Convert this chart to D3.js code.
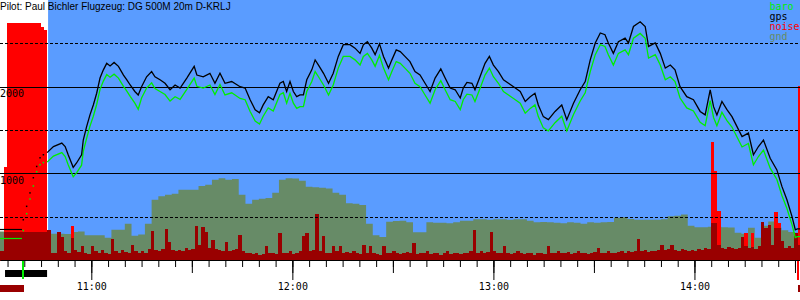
<!DOCTYPE html>
<html>
<head>
<meta charset="utf-8">
<script src="https://cdn.jsdelivr.net/npm/d3@7"></script>
<style>
  body { margin: 0; background: #fff; }
  svg { display: block; }
</style>
</head>
<body>
<div id="chart"></div>
<script>
// Flight data, times are minutes after 10:00, altitudes in metres
var title = "Pilot: Paul Bichler Flugzeug: DG 500M 20m D-KRLJ";

var flightMin = [
  46.8, 48.7, 51.2, 52.2, 53.1, 54.6, 55.6, 57.1, 57.6, 58.6,
  59.6, 60.6, 61.6, 62.6, 63.6, 64.6, 65.6, 66.8, 68.1, 69.6,
  70.6, 71.6, 73.0, 74.0, 75.0, 76.5, 78.0, 79.0, 80.5, 82.0,
  83.5, 85.0, 86.5, 88.5, 90.7, 91.5, 93.4, 95.4, 96.9, 98.4,
  99.9, 101.9, 104.4, 105.9, 107.4, 108.9, 110.2, 111.3, 112.8, 114.3,
  116.3, 117.3, 118.3, 119.3, 120.3, 121.3, 122.3, 123.3, 124.3, 125.8,
  126.8, 127.8, 129.3, 130.8, 132.2, 133.7, 135.2, 137.2, 138.7, 140.2,
  141.2, 142.4, 143.7, 144.7, 146.0, 147.2, 148.7, 149.7, 151.0, 152.2,
  153.6, 155.1, 156.6, 158.1, 159.6, 161.1, 162.6, 164.3, 165.6, 167.1,
  168.6, 170.1, 171.0, 172.1, 173.6, 174.5, 176.0, 177.5, 178.8, 180.0,
  181.5, 183.0, 184.5, 186.0, 188.0, 189.5, 191.0, 192.4, 193.4, 194.9,
  196.4, 198.4, 200.4, 201.9, 203.9, 205.9, 207.4, 208.9, 210.4, 211.9,
  213.3, 214.3, 215.8, 217.3, 219.3, 220.3, 221.8, 223.8, 225.3, 226.3,
  228.3, 229.8, 231.3, 232.8, 234.2, 235.7, 237.7, 239.7, 241.7, 243.2,
  244.7, 245.7, 246.7, 248.2, 249.7, 251.2, 252.7, 254.2, 256.1, 257.6,
  259.1, 260.6, 262.6, 264.6, 266.1, 267.6, 269.1, 270.1, 270.7, 271.6
];

var gpsAlt = [
  1245, 1315, 1355, 1315, 1220, 1075, 1125, 1220, 1390, 1545,
  1680, 1795, 1930, 2105, 2200, 2275, 2245, 2285, 2240, 2140,
  2085, 2025, 1950, 1910, 2005, 2120, 2180, 2120, 2085, 2045,
  1970, 2025, 1990, 2105, 2240, 2140, 2120, 2160, 2045, 2160,
  2045, 2065, 2005, 1990, 1855, 1740, 1705, 1795, 1890, 1855,
  2045, 2065, 1950, 2065, 1950, 1890, 1910, 1910, 2085, 2200,
  2315, 2255, 2160, 2045, 2160, 2355, 2490, 2490, 2450, 2390,
  2490, 2525, 2450, 2375, 2500, 2355, 2220, 2315, 2430, 2410,
  2355, 2295, 2180, 2140, 2045, 1950, 2105, 2210, 2105, 1990,
  1970, 1875, 1990, 2055, 2045, 1970, 2120, 2275, 2355, 2255,
  2180, 2085, 2045, 2005, 1950, 1835, 1890, 1930, 1795, 1660,
  1625, 1720, 1795, 1625, 1815, 1970, 2065, 2315, 2510, 2625,
  2605, 2510, 2390, 2525, 2565, 2510, 2700, 2755, 2700, 2470,
  2510, 2390, 2220, 2255, 2200, 2005, 1890, 1855, 1720, 1680,
  1970, 1775, 1680, 1835, 1740, 1660, 1545, 1430, 1470, 1220,
  1315, 1390, 1180, 1045, 855, 700, 510, 355, 365, 365
];

var baroAlt = [
  1135, 1205, 1245, 1200, 1105, 965, 1010, 1100, 1260, 1410,
  1550, 1665, 1800, 1975, 2070, 2145, 2115, 2150, 2105, 2010,
  1955, 1895, 1815, 1745, 1875, 1990, 2050, 1985, 1950, 1915,
  1840, 1890, 1860, 1975, 2105, 2010, 1990, 2025, 1915, 2030,
  1910, 1935, 1870, 1855, 1720, 1610, 1575, 1665, 1760, 1725,
  1915, 1935, 1815, 1930, 1815, 1755, 1775, 1775, 1950, 2065,
  2180, 2120, 2025, 1910, 2025, 2220, 2355, 2355, 2315, 2255,
  2355, 2390, 2315, 2240, 2365, 2220, 2085, 2180, 2295, 2275,
  2220, 2160, 2045, 2005, 1910, 1815, 1970, 2075, 1970, 1855,
  1835, 1740, 1855, 1920, 1910, 1835, 1985, 2140, 2220, 2120,
  2045, 1950, 1910, 1870, 1815, 1700, 1755, 1795, 1660, 1530,
  1495, 1590, 1665, 1495, 1685, 1840, 1935, 2180, 2375, 2490,
  2470, 2375, 2255, 2390, 2430, 2375, 2565, 2620, 2565, 2335,
  2375, 2255, 2085, 2120, 2065, 1875, 1760, 1725, 1595, 1555,
  1845, 1650, 1555, 1710, 1615, 1540, 1425, 1310, 1350, 1105,
  1200, 1275, 1065, 935, 750, 600, 415, 265, 275, 275
];

// Aerotow: sparse fixes, drawn as dots
var towMin = [39.7, 40.7, 41.7, 42.7, 43.7, 44.7, 45.7];
var towGps = [470, 625, 780, 955, 1085, 1185, 1220];
var towBaro = [345, 540, 710, 860, 1025, 1105, 1130];

// On the ground before launch
var groundGps = 362;
var groundBaro = 258;

// Terrain below the track, one value every 2 minutes from 10:32
var gndStartMin = 32;
var gndStepMin = 2;
var gndAlt = [
  335, 335, 335, 335, 335, 335, 335, 335, 308, 308,
  305, 330, 335, 290, 290, 290, 262, 354, 354, 423,
  285, 300, 423, 700, 740, 758, 770, 815, 815, 815,
  860, 873, 931, 950, 931, 940, 760, 654, 700, 712,
  720, 781, 931, 950, 945, 920, 850, 844, 840, 830,
  781, 760, 660, 654, 640, 423, 290, 270, 446, 455,
  460, 440, 325, 325, 441, 435, 435, 430, 440, 458,
  458, 475, 475, 470, 475, 475, 470, 475, 475, 460,
  441, 445, 441, 435, 430, 440, 435, 425, 440, 435,
  440, 445, 493, 500, 480, 469, 469, 469, 469, 475,
  510, 515, 530, 400, 383, 385, 390, 390, 383, 380,
  320, 310, 377, 262, 400, 450, 377, 350, 330, 320,
  320
];

// Engine noise level (0..1000), one value per minute from 10:33
var noiseStartMin = 33;
var noise = [
  35, 110, 110, 110, 110, 110, 110, 110, 110, 110,
  110, 110, 110, 110, 118, 30, 28, 110, 92, 35,
  30, 87, 40, 32, 57, 30, 25, 54, 35, 28,
  40, 30, 25, 83, 35, 28, 40, 32, 30, 60,
  35, 28, 38, 30, 45, 114, 40, 35, 45, 121,
  70, 40, 35, 42, 38, 50, 40, 45, 131, 60,
  130, 110, 50, 80, 45, 40, 38, 73, 35, 40,
  45, 99, 35, 30, 28, 25, 30, 22, 25, 54,
  28, 30, 25, 105, 30, 28, 35, 25, 30, 35,
  96, 105, 35, 40, 178, 35, 95, 30, 28, 54,
  35, 54, 30, 32, 28, 35, 30, 25, 60, 30,
  54, 28, 25, 22, 54, 30, 28, 35, 30, 25,
  28, 32, 30, 69, 25, 30, 28, 35, 25, 30,
  28, 22, 30, 35, 25, 28, 30, 25, 28, 30,
  35, 118, 30, 35, 28, 32, 110, 35, 30, 28,
  54, 30, 25, 28, 35, 30, 25, 28, 30, 22,
  28, 30, 25, 54, 30, 28, 35, 30, 28, 32,
  25, 30, 35, 28, 30, 25, 28, 32, 50, 30,
  28, 35, 30, 28, 32, 35, 30, 38, 32, 35,
  83, 35, 40, 32, 38, 35, 42, 60, 40, 45,
  60, 42, 38, 45, 40, 35, 42, 38, 45, 40,
  50, 45, 145, 145, 60, 50, 45, 52, 48, 45,
  50, 91, 55, 48, 52, 45, 55, 150, 125, 135,
  60, 126, 126, 76, 50, 55, 48, 105, 60
];

// Noise peaks (engine run and single spikes)
var peakMin = [34, 35, 36, 37, 38, 39, 40, 41, 42, 43, 44, 45, 46, 54, 245, 246, 247, 255, 257, 264, 265, 271];
var peakValue = [360, 915, 915, 915, 915, 915, 915, 915, 915, 915, 915, 900, 886, 133, 455, 345, 190, 105, 105, 185, 146, 670];

// Flight events
var engineRun = [34.25, 46.8];
var launchMin = 39.6;
var skyStartMin = 47.1;
var landingMin = 271.05;

var gridLevels = [500, 1000, 1500, 2000, 2500];
var labelLevels = [1000, 2000];

var legendNames = ["baro", "gps", "noise", "gnd"];
var legendColors = ["#00ee00", "#000000", "#ff0000", "#678b67"];

// ---------------------------------------------------------------------------

var width = 800;
var height = 300;
var day = new Date(2013, 6, 14, 10, 0, 0);

function at(min) {
  return new Date(day.getTime() + min * 60000);
}

var x = d3.scaleTime().domain([at(32.75), at(271.5)]).range([0, width]);
var y = d3.scaleLinear().domain([0, 3000]).range([260.5, 0.5]);
var yNoise = d3.scaleLinear().domain([0, 1000]).range([260.5, 0.5]);

var svg = d3.select("#chart").append("svg")
  .attr("width", width)
  .attr("height", height);

svg.append("rect")
  .attr("width", width)
  .attr("height", height)
  .attr("fill", "#fff");

// Sky after the engine was stopped
svg.append("rect")
  .attr("x", x(at(skyStartMin)))
  .attr("y", 0)
  .attr("width", width - x(at(skyStartMin)))
  .attr("height", y(0))
  .attr("fill", "#5a9cff");

// Terrain
var gnd = gndAlt.map(function(a, i) { return { t: gndStartMin + i * gndStepMin, alt: a }; });

svg.append("path")
  .datum(gnd)
  .attr("fill", legendColors[3])
  .attr("d", d3.area()
    .curve(d3.curveStepAfter)
    .x(function(d) { return x(at(d.t)); })
    .y0(y(0))
    .y1(function(d) { return y(d.alt); }));

// Noise bars
function barX(t) { return Math.floor(x(at(t))); }
function barW(t) { return Math.max(1, Math.floor(x(at(t + 1))) - Math.floor(x(at(t)))); }

svg.append("g").selectAll("rect")
  .data(peakMin.map(function(t, i) { return { t: t, v: peakValue[i] }; }))
  .enter().append("rect")
  .attr("shape-rendering", "crispEdges")
  .attr("fill", "#ff0000")
  .attr("x", function(d) { return barX(d.t); })
  .attr("width", function(d) { return barW(d.t); })
  .attr("y", function(d) { return yNoise(d.v); })
  .attr("height", function(d) { return yNoise(0) - yNoise(d.v); });

svg.append("g").selectAll("rect")
  .data(noise.map(function(v, i) { return { t: noiseStartMin + i, v: v }; }))
  .enter().append("rect")
  .attr("shape-rendering", "crispEdges")
  .attr("fill", "#990000")
  .attr("x", function(d) { return barX(d.t); })
  .attr("width", function(d) { return barW(d.t); })
  .attr("y", function(d) { return yNoise(d.v); })
  .attr("height", function(d) { return yNoise(0) - yNoise(d.v); });

// Altitude grid
svg.append("g").selectAll("line")
  .data(gridLevels)
  .enter().append("line")
  .attr("shape-rendering", "crispEdges")
  .attr("x1", 0)
  .attr("x2", width)
  .attr("y1", function(d) { return y(d); })
  .attr("y2", function(d) { return y(d); })
  .attr("stroke", "#000")
  .attr("stroke-dasharray", function(d) { return d % 1000 ? "3,2" : null; });

svg.append("g").selectAll("text")
  .data(labelLevels)
  .enter().append("text")
  .attr("x", 0)
  .attr("y", function(d) { return y(d) + 10; })
  .attr("font-family", "DejaVu Sans Mono")
  .attr("font-size", 10)
  .text(function(d) { return d; });

// Track before launch, tow dots and flight
var t0 = x.domain()[0];

function drawTrack(alts, towAlts, groundAlt, color) {
  svg.append("line")
    .attr("x1", x(t0))
    .attr("x2", x(at(launchMin)) - 1)
    .attr("y1", Math.round(y(groundAlt)) + 0.5)
    .attr("y2", Math.round(y(groundAlt)) + 0.5)
    .attr("stroke", color)
    .attr("stroke-width", 1.2);

  svg.append("g").selectAll("rect")
    .data(towMin.map(function(t, i) { return { t: t, alt: towAlts[i] }; }))
    .enter().append("rect")
    .attr("fill", color)
    .attr("x", function(d) { return x(at(d.t)) - 0.75; })
    .attr("y", function(d) { return y(d.alt) - 0.75; })
    .attr("width", 1.5)
    .attr("height", 1.5);

  var pts = flightMin.map(function(t, i) { return { t: t, alt: alts[i] }; });

  svg.append("path")
    .datum(pts)
    .attr("fill", "none")
    .attr("stroke", color)
    .attr("stroke-width", 1.3)
    .attr("d", d3.line()
      .x(function(d) { return x(at(d.t)); })
      .y(function(d) { return y(d.alt); }));
}

drawTrack(baroAlt, towBaro, groundBaro, legendColors[0]);
drawTrack(gpsAlt, towGps, groundGps, legendColors[1]);

// Time axis: 5 min, 30 min and hour ticks
var axisG = svg.append("g").attr("transform", "translate(0,260)");

axisG.append("g")
  .call(d3.axisBottom(x).ticks(d3.timeMinute.every(5)).tickSize(7).tickSizeOuter(0).tickFormat(""));

axisG.append("g")
  .call(d3.axisBottom(x).ticks(d3.timeMinute.every(30)).tickSize(13).tickFormat(""))
  .select(".domain").remove();

axisG.append("g")
  .attr("font-family", "DejaVu Sans Mono")
  .call(d3.axisBottom(x).ticks(d3.timeHour.every(1)).tickSize(20).tickPadding(3)
    .tickFormat(d3.timeFormat("%H:%M")))
  .call(function(g) {
    g.select(".domain").remove();
    g.selectAll("text").attr("font-family", "DejaVu Sans Mono").attr("font-size", 10);
  });

// Event rows below the axis
svg.append("rect")
  .attr("x", x(at(engineRun[0])))
  .attr("y", 270)
  .attr("width", x(at(engineRun[1])) - x(at(engineRun[0])))
  .attr("height", 7)
  .attr("fill", "#000");

svg.append("rect")
  .attr("x", Math.round(x(at(launchMin))) - 1)
  .attr("y", 261)
  .attr("width", 2)
  .attr("height", 18)
  .attr("fill", "#00ee00");

svg.append("rect")
  .attr("x", Math.round(x(at(landingMin))) - 1)
  .attr("y", 261)
  .attr("width", 2)
  .attr("height", 19)
  .attr("fill", "#ff0000");

svg.append("g").selectAll("rect")
  .data([[x.domain()[0], at(launchMin)], [at(landingMin), x.domain()[1]]])
  .enter().append("rect")
  .attr("x", function(d) { return Math.round(x(d[0])); })
  .attr("y", 285)
  .attr("width", function(d) { return Math.round(x(d[1])) - Math.round(x(d[0])) + 1; })
  .attr("height", 7)
  .attr("fill", "#990000");

// Title and legend
svg.append("text")
  .attr("x", 0)
  .attr("y", 10)
  .attr("font-family", "Liberation Sans, Arial, sans-serif")
  .attr("font-size", 10)
  .text(title);

svg.append("g").selectAll("text")
  .data(legendNames)
  .enter().append("text")
  .attr("x", 769.5)
  .attr("y", function(d, i) { return 10 + i * 10; })
  .attr("font-family", "DejaVu Sans Mono")
  .attr("font-size", 10)
  .attr("fill", function(d, i) { return legendColors[i]; })
  .text(function(d) { return d; });
</script>
</body>
</html>
